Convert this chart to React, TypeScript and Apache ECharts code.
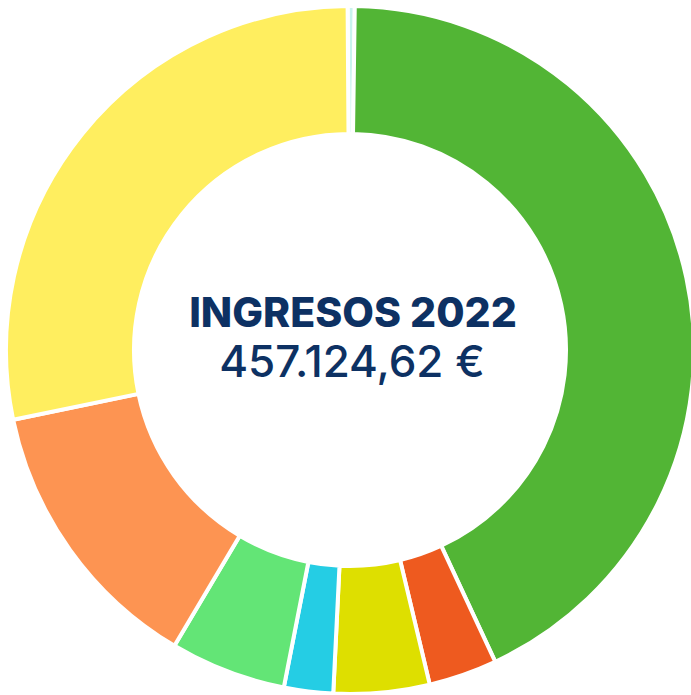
import React, { useEffect, useRef } from "react";
import * as echarts from "echarts";

const categories = [
  "Otros",
  "Categoría A",
  "Categoría B",
  "Categoría C",
  "Categoría D",
  "Categoría E",
  "Categoría F",
  "Categoría G",
];
const values = [1520, 195800, 14700, 20570, 10550, 24870, 60430, 128630];
const colors = [
  "#c9f3ee",
  "#52b535",
  "#ee5a1f",
  "#dedf00",
  "#25cde4",
  "#63e576",
  "#fd9452",
  "#ffee5f",
];
const titleText = "INGRESOS 2022";
const totalText = "457.124,62 €";

export default function App() {
  const ref = useRef<HTMLDivElement>(null);
  useEffect(() => {
    if (!ref.current) return;
    const chart = echarts.init(ref.current, undefined, { renderer: "svg" });
    chart.setOption({
      animation: false,
      backgroundColor: "#ffffff",
      graphic: [
        {
          type: "text",
          x: 353,
          y: 291,
          style: {
            text: titleText,
            textAlign: "center",
            fontFamily: "Inter",
            fontWeight: 800,
            fontSize: 41,
            fill: "#0d3163",
          },
        },
        {
          type: "text",
          x: 352,
          y: 339,
          style: {
            text: totalText,
            textAlign: "center",
            fontFamily: "Inter",
            fontWeight: 500,
            fontSize: 44,
            fill: "#0d3163",
          },
        },
      ],
      series: [
        {
          type: "pie",
          center: [350, 350],
          radius: [216, 344],
          startAngle: 90.4,
          clockwise: true,
          label: { show: false },
          labelLine: { show: false },
          emphasis: { disabled: true },
          itemStyle: { borderColor: "#ffffff", borderWidth: 4 },
          data: categories.map((c, i) => ({
            name: c,
            value: values[i],
            itemStyle: { color: colors[i] },
          })),
        },
      ],
    });
    return () => chart.dispose();
  }, []);
  return (
    <div
      ref={ref}
      style={{ position: "fixed", left: 0, top: 0, width: 691, height: 695 }}
    />
  );
}
